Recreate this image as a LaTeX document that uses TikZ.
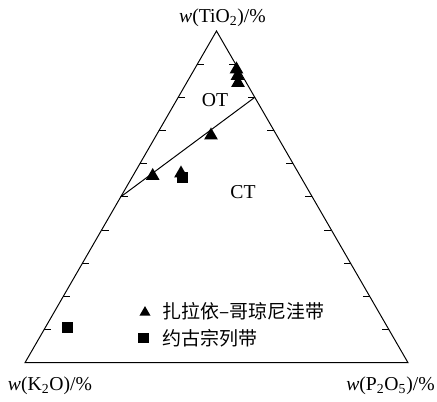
\documentclass[tikz,border=0pt]{standalone}
\usepackage{fontspec}
\setmainfont{Liberation Serif}
\newfontfamily\cjk{Noto Sans CJK SC}
\usetikzlibrary{shapes.geometric, calc}
\tikzstyle{lab} = [font=\fontsize{14}{16}\selectfont, inner sep=0pt]
\tikzstyle{tri} = [regular polygon, regular polygon sides=3, fill=black, inner sep=0pt, minimum size=0.4cm]
\tikzstyle{sq} = [rectangle, fill=black, inner sep=0pt, minimum size=0.28cm]
\tikzstyle{leg} = [font=\fontsize{13.5}{15}\selectfont\cjk, anchor=west, inner sep=0pt]

\begin{document}
\begin{tikzpicture}[x=0.025cm, y=0.025cm, line width=0.7pt]
	\useasboundingbox (0,0) rectangle (437,402);
	\coordinate (K) at (25,39.3);
	\coordinate (P) at (408,39.3);
	\coordinate (T) at (216.5,371);
	\draw (K) -- (P) -- (T) -- cycle;
	\foreach \t in {1,...,9} {
		\draw ({25+19.15*\t},{39.3+33.17*\t}) -- ++(7,0);
		\draw ({408-19.15*\t},{39.3+33.17*\t}) -- ++(-7,0);
	}
	\coordinate (d1) at ($(K)!0.5!(T)$);
	\coordinate (d2) at ($(P)!0.8!(T)$);
	\draw (d1) -- (d2);
	\node[lab] (ti) at (222.5,384) {\textit{w}(TiO\textsubscript{2})/\%};
	\node[lab] (ko) at (50,16) {\textit{w}(K\textsubscript{2}O)/\%};
	\node[lab] (po) at (390.5,16) {\textit{w}(P\textsubscript{2}O\textsubscript{5})/\%};
	\node[lab] (ot) at (215,302) {OT};
	\node[lab] (ct) at (243,210.3) {CT};
	% data
	\node[tri] (a1) at (236.5,332.5) {};
	\node[tri] (a2) at (237.5,326) {};
	\node[tri] (a3) at (238,319) {};
	\node[tri] (a4) at (211,266.5) {};
	\node[tri] (a5) at (152.7,226) {};
	\node[tri] (a6) at (181,228.5) {};
	\node[sq] (b1) at (182.5,224.7) {};
	\node[sq] (b2) at (67.2,74.2) {};
	% legend
	\node[tri, minimum size=0.32cm] (la) at (145,89.5) {};
	\node[sq, minimum size=0.26cm] (lb) at (143.5,64) {};
	\node[leg] (ta) at (161.7,90.3) {扎拉依–哥琼尼洼带};
	\node[leg] (tb) at (161.7,64) {约古宗列带};
\end{tikzpicture}
\end{document}
